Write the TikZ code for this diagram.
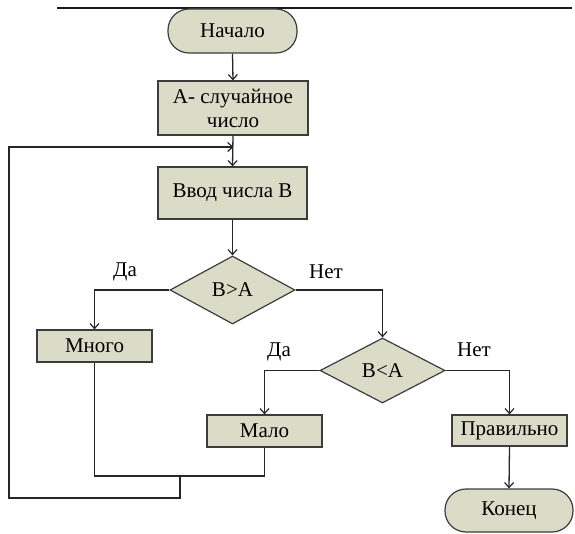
\documentclass[tikz,border=0pt]{standalone}
\usepackage{fontspec}
\setmainfont{Liberation Serif}
\newfontfamily\tnr{Liberation Serif}
\usetikzlibrary{shapes.geometric,arrows.meta}
\definecolor{boxfill}{RGB}{218,220,200}
\definecolor{edge}{RGB}{60,60,60}
\begin{document}
\begin{tikzpicture}[x=1pt,y=-1pt,
  font=\tnr\fontsize{21}{24}\selectfont,
  base/.style={draw=edge,fill=boxfill,line width=1.2pt,inner sep=0pt,text=black},
  procbox/.style={base,rectangle},
  termbox/.style={base,rectangle,rounded corners=21pt},
  decbox/.style={base,diamond,aspect=1.85},
  conn/.style={draw=black!85,line width=1.3pt},
  arr/.style={conn,-{Straight Barb[length=5pt,width=9pt,line width=1.2pt]}},
  lbl/.style={inner sep=0pt,text=black}]
\useasboundingbox (0,0) rectangle (575,534);
% top rule
\coordinate (tl) at (57,8);
\coordinate (tr) at (572,8);
\draw[line width=1.6pt,black!90] (tl) -- (tr);
% nodes
\node[termbox,minimum width=129pt,minimum height=44pt] (start) at (232.5,31) {Начало};
\node[procbox,minimum width=150pt,minimum height=54pt,align=center] (rnd) at (233,108) {A- случайное\\число};
\node[procbox,minimum width=149pt,minimum height=52pt] (input) at (232.5,193) {Ввод числа B};
\node[decbox,minimum width=125pt,minimum height=68pt] (d1) at (232.5,290) {B>A};
\node[procbox,minimum width=115pt,minimum height=32pt] (many) at (94.5,346) {Много};
\node[decbox,minimum width=125pt,minimum height=65pt] (d2) at (382.5,370.5) {B<A};
\node[procbox,minimum width=115pt,minimum height=32pt] (few) at (264.5,431) {Мало};
\node[procbox,minimum width=115pt,minimum height=31pt] (right) at (509.5,430.5) {Правильно};
\node[termbox,minimum width=128pt,minimum height=43pt] (stop) at (509,510.5) {Конец};
% labels
\node[lbl] (yes1) at (125,272) {Да};
\node[lbl] (no1) at (326,272) {Нет};
\node[lbl] (yes2) at (279,352) {Да};
\node[lbl] (no2) at (474,350) {Нет};
% connectors
\draw[arr] (start.south) -- (rnd.north);
\draw[arr] (rnd.south) -- (input.north);
\draw[arr] (input.south) -- (d1.north);
\draw[arr] (d1.west) -| (many.north);
\draw[arr] (d1.east) -| (d2.north);
\draw[arr] (d2.west) -| (few.north);
\draw[arr] (d2.east) -| (right.north);
\draw[arr] (right.south) -- (stop.north);
% return path
\coordinate (bus) at (180,476);
\coordinate (lb) at (9,498);
\coordinate (lp) at (233.5,147);
\draw[conn] (many.south) |- (bus) -| (few.south);
\draw[arr] (bus) |- (lb) |- (lp);
\end{tikzpicture}
\end{document}
